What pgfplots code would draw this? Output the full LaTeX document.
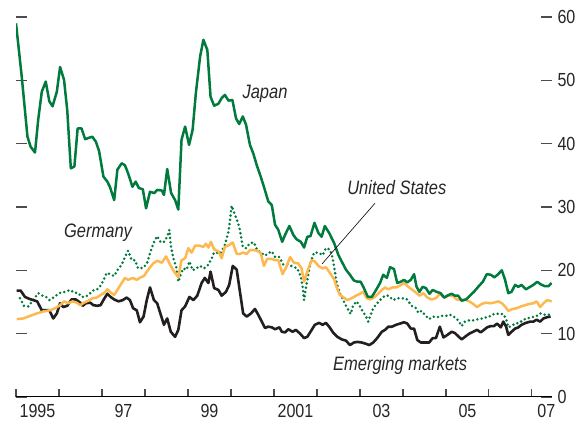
\documentclass[border=0pt]{standalone}
\usepackage{pgfplots}
\pgfplotsset{compat=1.18}
\usepackage{fontspec}
\setmainfont{Liberation Sans}[FakeStretch=0.85]
\definecolor{jgreen}{RGB}{0,122,61}
\definecolor{usorange}{RGB}{253,185,80}
\definecolor{emblack}{RGB}{35,31,32}
\begin{document}
\begin{tikzpicture}
\useasboundingbox (-16bp,-28bp) rectangle (567bp,397bp);
\begin{axis}[
 at={(0,0)}, anchor=south west,
 scale only axis, width=536bp, height=380bp,
 xmin=0, xmax=149.6, ymin=0, ymax=60,
 axis line style={draw=none},
 /pgf/number format/assume math mode=true,
 xtick={0,12,...,144}, xticklabels={},
 extra x ticks={6,30,54,78,102,126,148},
 extra x tick labels={1995,97,99,2001,03,05,07},
 extra x tick style={tick style={draw=none}},
 xtick pos=bottom,
 ytick={0,10,...,60},
 ytick pos=both, yticklabel pos=right,
 tick align=inside,
 major tick length=11bp,
 xtick style={/pgfplots/major tick length=8bp},
 tick style={black!70, line width=1.1bp},
 ticklabel style={font=\fontsize{19}{19}\selectfont, text=black!85},
 yticklabel style={anchor=west, xshift=2bp},
 xticklabel style={yshift=-4bp},
]
\draw[black, line width=1.2bp] (rel axis cs:0,0) -- (rel axis cs:1,0);
% Germany (dotted)
\addplot[jgreen, line width=2.8bp, line cap=round, dash pattern=on 0pt off 4.3bp] coordinates {
(1.1,15.6)(2.2,14.4)(3.4,14.3)(4.8,15.3)(6.2,16.4)(7.4,16.0)(8.4,15.8)(9.3,15.3)(10.2,15.6)(11.4,16.1)
(12.5,16.5)(13.7,16.6)(15.1,16.9)(16.2,16.5)(17.4,16.4)(18.3,15.8)(19.3,15.8)(20.2,16.1)(21.4,16.8)(22.3,16.9)
(23.2,17.2)(24.4,18.4)(25.3,19.6)(26.2,19.4)(27.4,19.1)(28.3,20.0)(29.5,20.9)(30.4,22.1)(31.3,23.1)(32.3,21.6)
(33.2,21.6)(34.1,20.3)(35.4,20.4)(36.5,21.0)(37.4,22.7)(38.3,24.2)(39.4,25.4)(40.4,24.4)(41.3,24.5)(42.2,25.3)
(42.8,26.4)(43.2,24.0)(43.9,21.9)(44.7,20.6)(45.3,18.2)(46.0,19.4)(46.7,20.3)(47.6,20.1)(48.4,21.4)(49.3,20.0)
(50.2,20.3)(51.4,20.7)(52.5,20.3)(53.7,20.9)(54.9,22.2)(55.5,23.3)(56.2,22.7)(57.1,22.7)(58.3,24.0)(59.3,26.1)
(59.7,27.7)(60.2,30.2)(61.1,28.8)(62.0,27.4)(62.5,26.4)(63.3,23.7)(64.2,23.5)(65.3,24.3)(66.4,24.4)(67.3,23.2)
(68.6,22.7)(69.5,22.3)(70.4,22.7)(71.4,23.0)(72.3,22.1)(73.5,22.1)(74.6,20.9)(76.0,20.9)(77.2,20.6)(78.5,20.3)
(79.5,19.0)(80.0,17.4)(80.4,15.3)(80.9,17.2)(81.6,19.5)(82.2,21.2)(83.2,22.8)(84.4,22.8)(85.6,22.4)(86.5,23.5)
(87.6,23.3)(88.4,21.9)(89.0,19.8)(89.5,18.0)(90.4,16.4)(91.3,15.3)(92.3,14.2)(93.4,13.1)(94.1,14.5)(95.1,15.1)
(96.0,14.3)(96.8,13.5)(97.7,12.7)(98.3,11.9)(99.0,13.0)(99.7,14.0)(100.8,14.8)(102.1,15.6)(103.0,16.0)(103.9,16.0)
(105.3,15.3)(106.4,15.6)(107.6,15.6)(109.0,15.5)(110.4,14.4)(111.4,14.2)(112.3,13.3)(113.2,13.6)(114.1,13.0)(115.3,12.3)
(116.4,12.7)(117.6,12.6)(118.8,12.8)(120.0,12.8)(121.1,13.0)(122.2,12.7)(123.4,12.1)(124.4,11.2)(125.3,11.9)(126.5,12.1)
(127.8,12.1)(129.0,12.3)(130.3,12.4)(131.4,12.6)(132.5,12.8)(133.7,13.2)(134.9,13.1)(136.0,13.1)(136.8,12.3)(137.4,11.0)
(138.3,11.2)(139.3,11.6)(140.5,11.7)(141.6,12.2)(142.7,12.4)(143.9,12.6)(145.1,12.7)(146.3,13.2)(147.4,13.0)(148.6,13.0)(149.5,13.0)
};
% Emerging markets
\addplot[emblack, line width=2.6bp, line join=round] coordinates {
(0.2,16.8)(1.3,16.8)(2.5,15.8)(3.7,15.5)(4.8,15.3)(5.9,15.1)(7.2,13.7)(8.4,13.7)(9.3,13.7)(10.4,12.4)
(11.4,13.2)(12.3,14.8)(13.2,14.2)(14.3,14.4)(15.5,15.4)(16.7,15.4)(17.9,14.9)(18.6,14.4)(19.5,14.8)(20.7,14.9)
(21.6,14.5)(22.7,14.4)(23.6,14.5)(24.6,15.5)(25.5,16.3)(26.4,15.8)(27.4,15.4)(28.6,15.1)(29.8,15.3)(30.9,15.7)
(31.8,15.3)(32.7,14.0)(33.7,13.7)(34.6,11.8)(35.6,12.7)(36.5,15.3)(37.4,17.3)(38.5,15.3)(39.4,14.8)(40.4,13.0)
(41.3,11.4)(42.2,12.4)(43.2,10.3)(44.4,9.5)(45.3,10.6)(46.2,13.7)(47.2,14.3)(48.4,15.8)(49.5,15.3)(50.6,16.0)
(51.8,18.0)(52.7,18.8)(53.7,18.0)(54.3,19.8)(55.3,17.2)(56.5,16.9)(57.4,16.0)(58.6,16.6)(59.5,17.7)(60.5,20.7)
(61.6,20.1)(62.3,17.4)(63.4,13.2)(64.4,12.7)(65.6,13.2)(66.7,13.9)(67.6,13.0)(68.6,11.9)(69.5,10.9)(70.4,11.1)
(71.4,11.0)(72.3,10.7)(73.5,11.0)(74.2,10.3)(75.1,10.2)(76.0,10.7)(77.2,10.3)(78.1,10.6)(79.3,10.0)(80.4,9.3)
(81.3,9.5)(82.2,10.3)(83.4,11.4)(84.6,11.7)(85.6,11.4)(86.5,11.7)(87.4,11.1)(88.6,10.1)(89.7,9.5)(90.9,9.1)
(92.1,8.9)(93.2,8.2)(94.3,8.6)(95.3,8.7)(96.5,8.6)(97.7,8.4)(98.6,8.2)(99.7,8.6)(100.8,9.3)(102.1,10.3)
(103.0,10.6)(103.9,11.1)(104.9,11.1)(106.1,11.4)(107.2,11.6)(108.3,11.8)(109.2,11.6)(110.2,10.8)(111.1,10.8)(112.0,9.0)
(113.0,8.6)(114.1,8.6)(115.3,8.6)(116.3,9.3)(117.2,9.3)(118.3,11.1)(119.3,9.4)(120.4,9.8)(121.6,10.3)(122.5,10.1)
(123.4,9.6)(124.4,9.1)(125.3,9.5)(126.5,10.0)(127.6,10.3)(128.7,10.6)(129.7,10.2)(130.6,10.6)(131.5,11.0)(132.5,11.2)
(133.4,11.2)(134.3,11.6)(135.3,11.0)(136.0,11.9)(136.8,11.1)(137.4,9.8)(138.3,10.3)(139.3,10.8)(140.2,11.0)(141.1,11.4)
(142.3,11.7)(143.5,11.9)(144.4,11.9)(145.3,12.2)(146.3,11.9)(147.2,12.4)(148.2,12.6)(149.2,12.7)
};
% United States
\addplot[usorange, line width=2.5bp, line join=round] coordinates {
(0.2,12.3)(2.0,12.4)(3.9,12.8)(5.8,13.2)(7.6,13.5)(9.5,13.7)(10.9,14.0)(12.3,14.5)(13.4,15.1)(14.6,14.8)
(15.8,15.1)(16.9,14.9)(17.9,14.5)(19.0,14.9)(20.2,15.2)(21.4,15.6)(22.5,15.7)(23.6,16.1)(24.8,16.5)(25.5,17.0)
(26.4,16.5)(27.4,16.1)(28.6,17.2)(29.5,18.0)(30.4,18.8)(31.3,18.5)(32.6,18.8)(33.7,18.5)(34.8,18.9)(35.7,19.1)
(36.9,20.1)(38.3,21.1)(39.4,21.5)(40.7,21.2)(41.9,22.2)(43.0,20.9)(44.1,19.8)(45.3,18.9)(46.2,21.6)(47.2,21.9)
(48.1,23.5)(49.0,22.8)(50.0,23.9)(51.2,23.9)(52.3,23.7)(53.0,24.2)(53.7,23.6)(54.4,24.5)(55.3,23.3)(56.5,23.0)
(57.4,21.9)(58.3,23.7)(59.5,24.0)(60.5,24.4)(61.6,22.6)(62.5,22.6)(63.4,22.8)(64.4,22.6)(65.3,23.2)(66.2,23.2)
(67.3,23.1)(68.3,22.7)(69.2,20.7)(70.1,21.8)(71.4,21.8)(72.3,21.6)(73.2,21.6)(74.4,19.4)(75.5,20.6)(76.5,22.1)
(77.6,21.2)(78.8,21.1)(79.7,20.3)(80.4,18.2)(81.3,19.8)(82.5,21.6)(83.4,21.4)(84.4,20.7)(85.6,20.3)(86.5,20.5)
(87.6,19.6)(88.8,18.6)(89.5,17.3)(90.4,16.1)(91.5,15.7)(92.5,15.3)(93.7,15.6)(94.9,16.0)(96.0,16.3)(96.9,16.6)
(97.9,15.6)(98.8,15.4)(99.9,15.7)(101.1,16.3)(102.1,16.9)(103.0,17.3)(103.9,17.0)(105.1,17.3)(106.1,17.3)(107.2,17.6)
(108.3,18.0)(109.5,17.4)(110.7,16.9)(111.8,16.4)(112.6,16.0)(113.7,16.4)(114.8,15.7)(116.0,15.4)(117.2,15.6)(118.3,16.3)
(119.5,15.7)(120.7,16.0)(121.9,16.0)(123.0,15.4)(124.1,15.3)(125.3,15.4)(126.5,15.1)(127.6,14.7)(128.7,14.2)(130.0,14.7)
(131.2,14.9)(132.3,14.8)(133.4,14.9)(134.6,15.1)(135.6,14.8)(136.5,14.3)(137.4,13.6)(138.6,13.9)(139.7,14.0)(140.9,14.3)
(142.1,14.5)(143.3,14.7)(144.4,14.8)(145.3,15.1)(146.3,14.2)(147.4,14.9)(148.3,15.3)(149.5,15.1)
};
% Japan
\addplot[jgreen, line width=2.5bp, line join=round] coordinates {
(0,59.0)(1.6,50.6)(3.2,41.1)(4.1,39.5)(5.3,38.6)(6.2,43.8)(7.2,48.2)(8.3,49.8)(9.3,46.7)(10.2,45.9)
(11.4,48.2)(12.3,52.1)(13.4,50.1)(14.3,45.3)(15.3,36.1)(16.3,36.4)(17.2,42.4)(18.3,42.4)(19.3,40.7)(20.2,40.9)
(21.3,41.1)(22.3,40.3)(23.2,38.8)(24.4,34.8)(25.5,34.0)(26.2,33.2)(27.4,31.1)(28.3,35.9)(29.5,36.9)(30.4,36.6)
(31.3,35.3)(32.5,33.2)(33.4,34.0)(34.3,33.0)(35.4,32.8)(36.3,29.8)(37.4,32.4)(38.6,32.2)(39.4,32.7)(40.7,32.6)
(41.3,31.9)(42.2,36.0)(43.3,32.2)(44.4,31.1)(45.3,29.6)(46.2,40.6)(47.2,42.7)(48.3,39.8)(49.3,42.2)(50.2,48.0)
(51.4,53.8)(52.3,56.4)(53.4,54.8)(54.3,47.4)(55.3,46.0)(56.5,46.3)(57.4,47.2)(58.3,47.7)(59.3,46.8)(60.4,46.9)
(61.4,44.0)(62.3,43.1)(63.3,44.3)(64.2,43.0)(65.3,39.8)(66.2,38.5)(67.2,36.6)(68.3,34.8)(69.3,33.0)(70.4,30.9)
(71.4,30.3)(72.3,27.2)(73.2,26.4)(74.3,24.5)(75.1,25.6)(76.3,27.0)(77.4,25.6)(78.3,24.9)(79.5,24.5)(80.4,23.6)
(81.3,25.3)(82.2,25.4)(83.3,27.5)(84.4,25.9)(85.3,25.3)(86.2,27.0)(87.4,25.9)(88.8,24.3)(90.0,22.4)(90.9,21.4)
(92.1,20.1)(93.2,19.3)(94.3,18.4)(95.3,18.2)(96.2,18.2)(97.1,17.2)(98.2,15.8)(99.3,15.8)(100.5,16.9)(101.6,18.0)
(102.5,19.3)(103.5,18.8)(104.4,20.5)(105.5,20.2)(106.4,18.0)(107.4,18.2)(108.3,18.5)(109.2,18.1)(110.2,18.5)(111.1,19.4)
(111.8,17.4)(112.6,16.6)(113.5,17.4)(114.4,17.2)(115.4,16.3)(116.3,16.9)(117.4,16.6)(118.5,16.4)(119.5,15.7)(120.7,16.1)
(121.6,16.3)(122.5,16.0)(123.4,16.0)(124.4,15.2)(125.6,15.4)(126.7,16.0)(127.8,16.6)(129.0,17.4)(130.3,18.2)(131.4,19.4)
(132.5,19.3)(133.5,18.9)(134.4,19.3)(135.6,20.0)(136.5,18.5)(137.4,16.4)(138.3,16.6)(139.3,17.7)(140.2,17.4)(141.1,17.7)
(142.3,17.0)(143.5,17.4)(144.4,17.7)(145.5,18.2)(146.4,17.8)(147.6,17.5)(148.6,17.5)(149.5,18.0)
};
\draw[black, line width=0.6bp] (axis cs:100.2,30.6) -- (axis cs:85.4,21.0);
\begin{scope}[every node/.style={font=\itshape\fontsize{19.5}{19.5}\selectfont, text=black!85, inner sep=0pt}]
\node at (axis cs:69.5,47.9) {Japan};
\node at (axis cs:106.3,33.0) {United States};
\node at (axis cs:22.9,25.9) {Germany};
\node at (axis cs:107.2,4.9) {Emerging markets};
\end{scope}
\end{axis}
\end{tikzpicture}
\end{document}
